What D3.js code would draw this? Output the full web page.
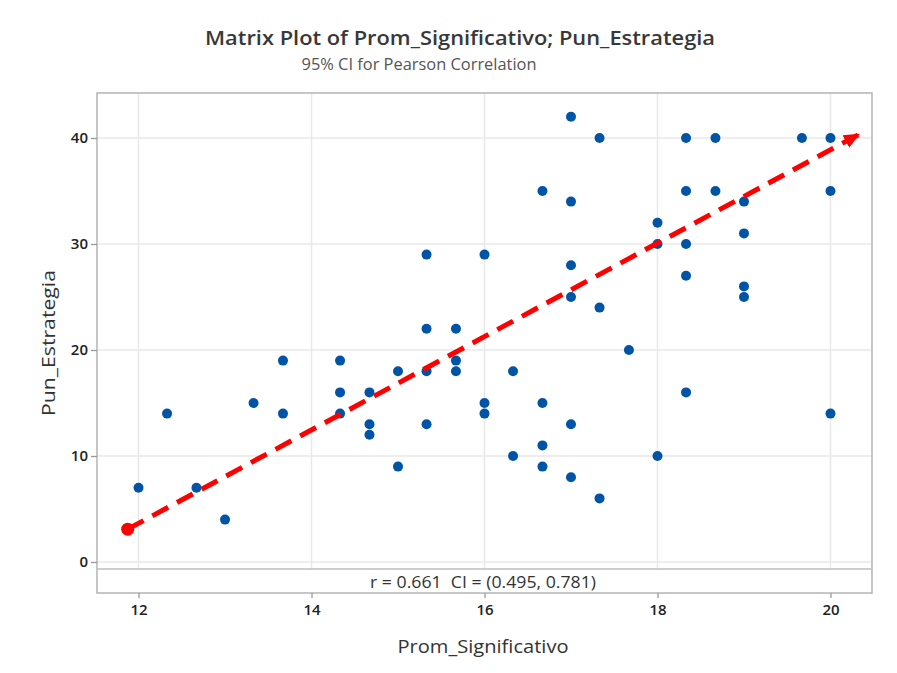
<!DOCTYPE html>
<html>
<head>
<meta charset="utf-8">
<script src="https://cdn.jsdelivr.net/npm/d3@7"></script>
<style>
  body { margin: 0; background: #fff; }
  text { font-family: "Open Sans", "Noto Sans", sans-serif; }
</style>
</head>
<body>
<div id="chart"></div>
<script>
// values
const xTicks = [12, 14, 16, 18, 20];
const yTicks = [0, 10, 20, 30, 40];

const promSig = [12, 12.33, 12.67, 13, 13.33, 13.67, 13.67,
    14.33, 14.33, 14.33, 14.67, 14.67, 14.67, 15, 15,
    15.33, 15.33, 15.33, 15.33, 15.67, 15.67, 15.67, 16, 16, 16,
    16.33, 16.33, 16.67, 16.67, 16.67, 16.67,
    17, 17, 17, 17, 17, 17, 17.33, 17.33, 17.33, 17.67,
    18, 18, 18, 18.33, 18.33, 18.33, 18.33, 18.33, 18.67, 18.67,
    19, 19, 19, 19, 19.67, 20, 20, 20];
const punEst = [7, 14, 7, 4, 15, 19, 14,
    19, 16, 14, 16, 13, 12, 18, 9,
    29, 22, 18, 13, 22, 19, 18, 29, 15, 14,
    18, 10, 35, 15, 11, 9,
    42, 34, 28, 25, 13, 8, 40, 24, 6, 20,
    32, 30, 10, 40, 35, 30, 27, 16, 40, 35,
    34, 31, 26, 25, 40, 40, 35, 14];

// hand drawn red arrow (start and tip, data units)
const arrowX = [11.875, 20.32];
const arrowY = [3.1, 40.3];

const titleText = "Matrix Plot of Prom_Significativo; Pun_Estrategia";
const subtitleText = "95% CI for Pearson Correlation";
const xLabel = "Prom_Significativo";
const yLabel = "Pun_Estrategia";
const corrText = "r = 0.661  CI = (0.495, 0.781)";

const W = 897, H = 673;
const frame = {left: 97, right: 872, top: 93, bottom: 593};
const dataBottom = 569;  // strip with r / CI below this

const svg = d3.select("#chart").append("svg")
    .attr("width", W)
    .attr("height", H);

const x = d3.scaleLinear()
    .domain([11.52, 20.48])
    .range([frame.left, frame.right]);

const y = d3.scaleLinear()
    .domain([0, 40])
    .range([562, 138]);

// grid
svg.append("g").selectAll("line")
    .data(xTicks)
    .enter().append("line")
    .attr("x1", d => x(d)).attr("x2", d => x(d))
    .attr("y1", frame.top).attr("y2", dataBottom)
    .style("stroke", "#e8e8e8")
    .style("stroke-width", 1.5);

svg.append("g").selectAll("line")
    .data(yTicks)
    .enter().append("line")
    .attr("x1", frame.left).attr("x2", frame.right)
    .attr("y1", d => y(d)).attr("y2", d => y(d))
    .style("stroke", "#e8e8e8")
    .style("stroke-width", 1.5);

// frame + strip separator
svg.append("rect")
    .attr("x", frame.left).attr("y", frame.top)
    .attr("width", frame.right - frame.left)
    .attr("height", frame.bottom - frame.top)
    .attr("fill", "none")
    .attr("stroke", "#b4b4b4")
    .attr("stroke-width", 1.5);

svg.append("line")
    .attr("x1", frame.left).attr("x2", frame.right)
    .attr("y1", dataBottom).attr("y2", dataBottom)
    .style("stroke", "#bdbdbd")
    .style("stroke-width", 1.5);

// axes
const xAxis = svg.append("g")
    .attr("transform", `translate(0, ${frame.bottom})`)
    .call(d3.axisBottom(x).tickValues(xTicks).tickSize(5).tickSizeOuter(0).tickPadding(6));

const yAxis = svg.append("g")
    .attr("transform", `translate(${frame.left}, 0)`)
    .call(d3.axisLeft(y).tickValues(yTicks).tickSize(6).tickSizeOuter(0).tickPadding(3));

[xAxis, yAxis].forEach(a => {
    a.select(".domain").remove();
    a.selectAll(".tick line").style("stroke", "#9a9a9a").style("stroke-width", 1.3);
    a.selectAll(".tick text")
        .style("font-size", "15px")
        .style("font-weight", 600)
        .style("fill", "#222");
});

// points
svg.append("g").selectAll("circle")
    .data(promSig.map((d, i) => [d, punEst[i]]))
    .enter().append("circle")
    .attr("cx", d => x(d[0]))
    .attr("cy", d => y(d[1]))
    .attr("r", 5)
    .attr("fill", "#0054a6");

// red arrow
svg.append("defs").append("marker")
    .attr("id", "head")
    .attr("markerUnits", "userSpaceOnUse")
    .attr("viewBox", "0 -8 16 16")
    .attr("refX", 14).attr("refY", 0)
    .attr("markerWidth", 16).attr("markerHeight", 16)
    .attr("orient", "auto")
    .append("path")
    .attr("d", "M0,-7L16,0L0,7Z")
    .attr("fill", "#ff0000");

svg.append("line")
    .attr("x1", x(arrowX[0])).attr("y1", y(arrowY[0]))
    .attr("x2", x(arrowX[1])).attr("y2", y(arrowY[1]))
    .attr("stroke", "#ff0000")
    .attr("stroke-width", 5)
    .attr("stroke-dasharray", "18 10")
    .attr("marker-end", "url(#head)");

svg.append("circle")
    .attr("cx", x(arrowX[0])).attr("cy", y(arrowY[0]))
    .attr("r", 6.5)
    .attr("fill", "#ff0000");

// correlation text in strip
svg.append("text")
    .attr("x", 483)
    .attr("y", 588)
    .attr("text-anchor", "middle")
    .attr("textLength", 226)
    .attr("lengthAdjust", "spacingAndGlyphs")
    .style("white-space", "pre")
    .style("font-size", "17px")
    .style("fill", "#333")
    .text(corrText);

// titles
svg.append("text")
    .attr("x", 460).attr("y", 45)
    .attr("text-anchor", "middle")
    .attr("textLength", 510)
    .attr("lengthAdjust", "spacingAndGlyphs")
    .style("font-size", "20px")
    .style("font-weight", 600)
    .style("fill", "#383838")
    .text(titleText);

svg.append("text")
    .attr("x", 419).attr("y", 70)
    .attr("text-anchor", "middle")
    .attr("textLength", 235)
    .attr("lengthAdjust", "spacingAndGlyphs")
    .style("font-size", "17px")
    .style("fill", "#555")
    .text(subtitleText);

svg.append("text")
    .attr("x", 483).attr("y", 653)
    .attr("text-anchor", "middle")
    .attr("textLength", 171)
    .attr("lengthAdjust", "spacingAndGlyphs")
    .style("font-size", "18px")
    .style("font-weight", 500)
    .style("fill", "#333")
    .text(xLabel);

svg.append("text")
    .attr("transform", "translate(55, 343) rotate(-90)")
    .attr("text-anchor", "middle")
    .attr("textLength", 146)
    .attr("lengthAdjust", "spacingAndGlyphs")
    .style("font-size", "18px")
    .style("font-weight", 500)
    .style("fill", "#333")
    .text(yLabel);
</script>
</body>
</html>
